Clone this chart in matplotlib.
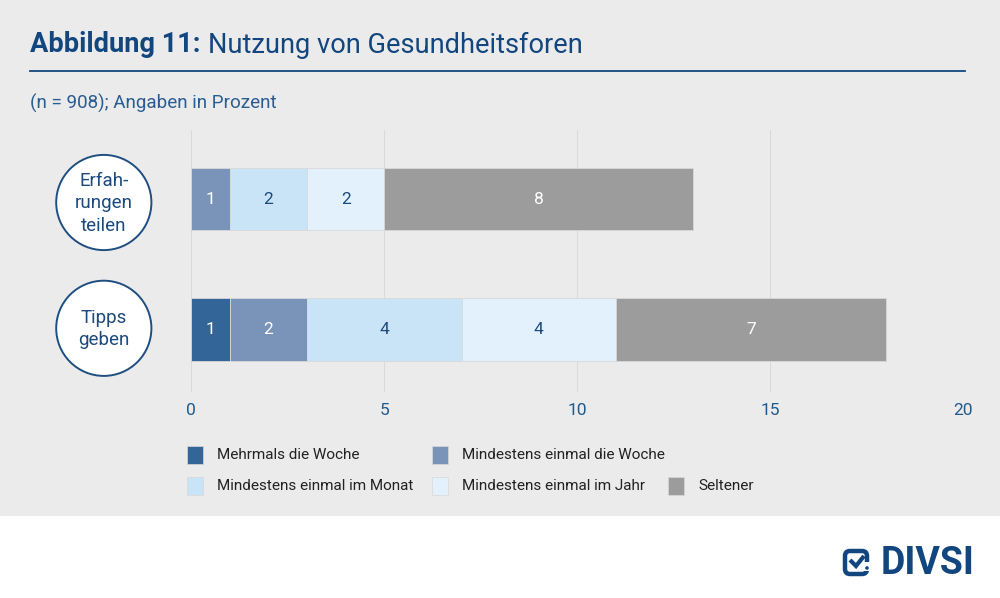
import matplotlib
matplotlib.use("Agg")
import matplotlib.pyplot as plt
from matplotlib.patches import Circle, Rectangle, FancyBboxPatch

plt.rcParams['font.family'] = ['Roboto', 'DejaVu Sans']

# ---------------- data ----------------
categories = ["Erfah-\nrungen\nteilen", "Tipps\ngeben"]
series = ["Mehrmals die Woche", "Mindestens einmal die Woche",
          "Mindestens einmal im Monat", "Mindestens einmal im Jahr", "Seltener"]
mehrmals = [0, 1]
einmal_woche = [1, 2]
einmal_monat = [2, 4]
einmal_jahr = [2, 4]
seltener = [8, 7]
xticks = [0, 5, 10, 15, 20]

title_bold = "Abbildung 11:"
title_rest = "Nutzung von Gesundheitsforen"
subtitle = "(n = 908); Angaben in Prozent"

# ---------------- styles ----------------
colors = ["#336598", "#7a93b8", "#c9e3f7", "#e3f1fc", "#9c9c9d"]
label_colors = ["white", "white", "#1c4a7c", "#1c4a7c", "white"]
navy = "#12467f"
tickblue = "#1f5a8f"
bgray = "#ebebeb"

W, H = 1000, 598
fig = plt.figure(figsize=(W / 100, H / 100), dpi=100)
fig.patch.set_facecolor("white")

bg = fig.add_axes([0, 0, 1, 1], zorder=0)
bg.set_xlim(0, W)
bg.set_ylim(H, 0)
bg.axis("off")
bg.add_patch(Rectangle((0, 0), W, 515.7, facecolor=bgray, edgecolor="none"))

# title
t1 = bg.text(30, 45, title_bold, fontsize=19.6, fontweight="bold", color=navy,
             va="center", ha="left")
fig.canvas.draw()
inv = bg.transData.inverted()
x_end = inv.transform((t1.get_window_extent().x1, 0))[0]
bg.text(x_end + 7, 45, title_rest, fontsize=19.6, color=navy, va="center", ha="left")
bg.plot([30, 965], [70.7, 70.7], color=navy, lw=1.3)
bg.text(30, 103, subtitle, fontsize=13.6, color="#2a5d91", va="center", ha="left")

# main axes
ax = fig.add_axes([191.3 / W, (H - 392) / H, 772 / W, 262 / H], zorder=1)
ax.set_facecolor("none")
data = [mehrmals, einmal_woche, einmal_monat, einmal_jahr, seltener]
ypos = list(range(len(categories)))
left = [0] * len(categories)
bar_h = 0.479
for s, vals, c, lc in zip(series, data, colors, label_colors):
    bars = ax.barh(ypos, vals, left=left, height=bar_h, color=c, edgecolor="#d8d8d8",
                   linewidth=0.6, label=s, zorder=2)
    for rect, v in zip(bars, vals):
        if v > 0:
            ax.text(rect.get_x() + rect.get_width() / 2, rect.get_y() + rect.get_height() / 2,
                    f"{v}", ha="center", va="center", color=lc, fontsize=12.5, zorder=3)
    left = [l + v for l, v in zip(left, vals)]

ax.set_xlim(0, 20)
ax.set_ylim(1.479, -0.529)
ax.set_xticks(xticks)
ax.set_xticklabels([str(t) for t in xticks])
ax.set_yticks([])
ax.tick_params(axis="x", length=0, pad=8, labelsize=12.5, labelcolor=tickblue)
ax.grid(axis="x", color="#dadada", lw=0.8, zorder=0)
ax.set_axisbelow(True)
for sp in ax.spines.values():
    sp.set_visible(False)

# category circles
circle_y = [202.5, 328.3]
for cat, cy in zip(categories, circle_y):
    bg.add_patch(Circle((103.8, cy), 47.6, facecolor="white", edgecolor="#1f4e80", lw=1.4))
    bg.text(103.8, cy + 1, cat, ha="center", va="center", fontsize=13.5, color="#1c4a7c",
            linespacing=1.3)

# legend (manual flow layout)
leg_pos = [(187, 455), (432, 455), (187, 486), (432, 486), (668, 486)]
for s, c, (lx, ly) in zip(series, colors, leg_pos):
    bg.add_patch(Rectangle((lx, ly - 9), 16, 18, facecolor=c, edgecolor="#d8d8d8", lw=0.5))
    bg.text(lx + 30, ly, s, ha="left", va="center", fontsize=11, color="#222222")

# logo
bg.add_patch(FancyBboxPatch((845, 551), 22, 23, boxstyle="round,pad=0,rounding_size=5",
                            facecolor="none", edgecolor=navy, lw=3.2))
bg.add_patch(Rectangle((864, 562), 6, 9, facecolor="white", edgecolor="none"))
bg.add_patch(Circle((867, 568), 1.8, facecolor=navy, edgecolor="none"))
bg.plot([850, 856, 864], [560, 566, 556], color=navy, lw=3, solid_capstyle="butt",
        solid_joinstyle="miter")
bg.text(881, 563, "DIVSI", ha="left", va="center", fontsize=27, fontweight="bold",
        color=navy)

fig.savefig("out.png", dpi=100)
